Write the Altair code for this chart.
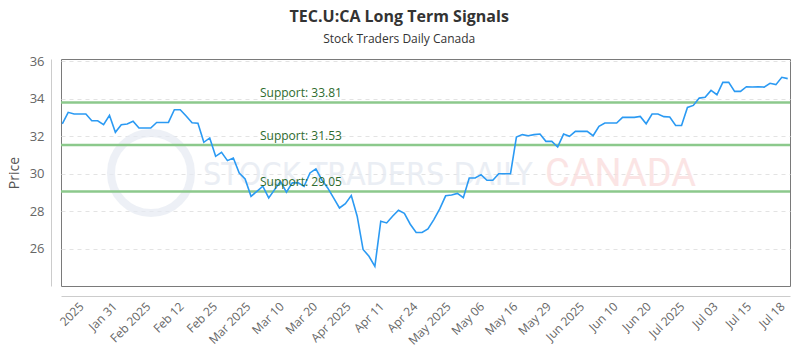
import json
import altair as alt
import pandas as pd

# ---- data ----
prices = [
    32.66, 33.28, 33.19, 33.19, 33.19, 32.83, 32.83, 32.62, 33.12, 32.21,
    32.62, 32.66, 32.80, 32.44, 32.44, 32.44, 32.74, 32.74, 32.74, 33.42,
    33.42, 33.08, 32.72, 32.70, 31.68, 31.91, 30.93, 31.14, 30.70, 30.84,
    30.04, 29.72, 28.79, 29.06, 29.33, 28.71, 29.15, 29.59, 29.01, 29.51,
    29.51, 29.33, 30.04, 30.26, 29.68, 29.24, 28.71, 28.17, 28.40, 28.83,
    27.73, 25.95, 25.59, 25.05, 27.46, 27.37, 27.73, 28.05, 27.88, 27.30,
    26.86, 26.86, 27.05, 27.55, 28.12, 28.82, 28.86, 28.95, 28.72, 29.77,
    29.77, 29.95, 29.65, 29.65, 30.00, 30.00, 30.00, 31.96, 32.09, 32.03,
    32.09, 32.12, 31.73, 31.73, 31.43, 32.12, 32.00, 32.26, 32.26, 32.26,
    32.03, 32.53, 32.71, 32.71, 32.71, 33.01, 33.01, 33.01, 33.06, 32.67,
    33.19, 33.19, 33.05, 33.03, 32.58, 32.58, 33.54, 33.65, 34.04, 34.08,
    34.45, 34.22, 34.88, 34.88, 34.40, 34.40, 34.65, 34.63, 34.65, 34.63,
    34.83, 34.76, 35.15, 35.08,
]

support_levels = [33.81, 31.53, 29.05]
support_labels = [f"Support: {v:.2f}" for v in support_levels]

x_labels = ["2025", "Jan 31", "Feb 2025", "Feb 12", "Feb 25", "Mar 2025",
            "Mar 10", "Mar 20", "Apr 2025", "Apr 11", "Apr 24", "May 2025",
            "May 06", "May 16", "May 29", "Jun 2025", "Jun 10", "Jun 20",
            "Jul 2025", "Jul 03", "Jul 15", "Jul 18"]
y_ticks = [26, 28, 30, 32, 34, 36]

# ---- tables ----
price_df = pd.DataFrame({"i": list(range(len(prices))), "price": prices})
support_df = pd.DataFrame({"level": support_levels, "label": support_labels})

tick_start = 3.2
tick_step = 5.66
tick_values = [round(tick_start + tick_step * k, 3) for k in range(len(x_labels))]
label_expr = f"{json.dumps(x_labels)}[round((datum.value - {tick_start}) / {tick_step})]"

FONT = "Open Sans"

x_scale = alt.Scale(domain=[-0.22, 123.39], nice=False, zero=False)
y_scale = alt.Scale(domain=[24, 36.13], nice=False, zero=False)

x_axis = alt.Axis(
    values=tick_values, labelExpr=label_expr, title=None, grid=False,
    ticks=False, labelAngle=-45, labelAlign="right", labelBaseline="middle",
    labelPadding=8, offset=10, domainColor="#cccccc", labelColor="#666666",
    labelFontSize=12, labelFont=FONT, labelOverlap=False,
)
y_axis = alt.Axis(
    values=y_ticks, title="Price", grid=True, gridDash=[4, 4],
    gridColor="#e3e3e3", ticks=False, offset=10, domainColor="#cccccc",
    labelColor="#666666", labelFontSize=13, labelFont=FONT, labelPadding=7,
    titleFont=FONT, titleFontSize=14, titleFontWeight="normal",
    titleColor="#555555", titlePadding=8,
)

base_line = alt.Chart(price_df).mark_line(color="#2b9af3", strokeWidth=1.6).encode(
    x=alt.X("i:Q", scale=x_scale, axis=x_axis),
    y=alt.Y("price:Q", scale=y_scale, axis=y_axis),
)

support_rules = alt.Chart(support_df).mark_rule(
    color="#8cc98c", strokeWidth=2.5
).encode(y=alt.Y("level:Q", scale=y_scale))

support_text = alt.Chart(support_df).mark_text(
    align="left", baseline="bottom", dy=-2, color="#2e6b2e",
    fontSize=12, font=FONT,
).encode(x=alt.value(199), y=alt.Y("level:Q", scale=y_scale), text="label:N")

# faint watermark
wm_df = pd.DataFrame({"t": ["STOCK TRADERS DAILY"]})
wm_logo = alt.Chart(wm_df).mark_point(
    shape="circle", filled=False, size=6400, strokeWidth=8,
    color="#e6ebf3", opacity=0.7,
).encode(x=alt.value(90), y=alt.value(114))
wm_text1 = alt.Chart(wm_df).mark_text(
    align="left", baseline="middle", fontSize=32,
    font="'DejaVu Sans Condensed', 'Liberation Sans Narrow', 'DejaVu Sans'",
    color="#e6eaf2", opacity=0.8,
).encode(x=alt.value(142), y=alt.value(116), text="t:N")
wm_df2 = pd.DataFrame({"t": ["CANADA"]})
wm_text2 = alt.Chart(wm_df2).mark_text(
    align="left", baseline="middle", fontSize=38, font="Roboto",
    color="#fbdede", opacity=0.8,
).encode(x=alt.value(484), y=alt.value(116), text="t:N")

chart = alt.layer(
    wm_logo, wm_text1, wm_text2, support_rules, base_line, support_text
).properties(
    width=729, height=227,
    title=alt.TitleParams(
        text="TEC.U:CA Long Term Signals", subtitle="Stock Traders Daily Canada",
        anchor="middle", frame="bounds", font=FONT, fontSize=16,
        fontWeight="bold", color="#333333", subtitleFont=FONT,
        subtitleFontSize=12, subtitleColor="#333333", subtitlePadding=9,
        offset=10,
    ),
    autosize=alt.AutoSizeParams(type="none"),
    padding={"left": 61, "top": 59, "right": 10, "bottom": 64},
).configure_view(stroke="#7a7a7a", strokeWidth=1)

chart.save("out.html", embed_options={"renderer": "svg", "actions": False})
